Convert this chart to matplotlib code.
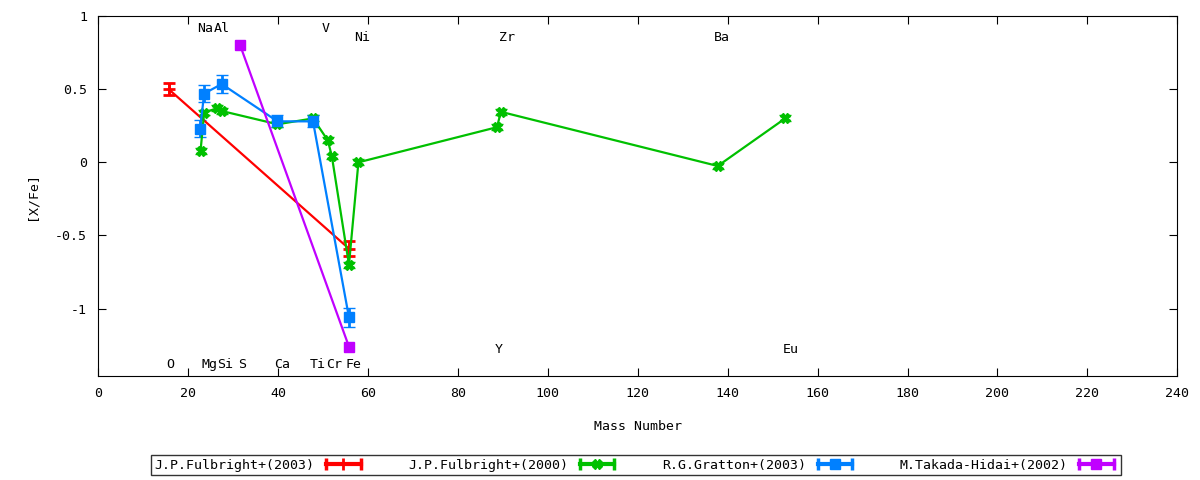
import matplotlib
matplotlib.use("Agg")
import matplotlib.pyplot as plt
from matplotlib.lines import Line2D
from matplotlib.legend_handler import HandlerLine2D, HandlerTuple

plt.rcParams['font.family'] = ['DejaVu Sans Mono']
plt.rcParams['font.size'] = 9.5
plt.rcParams['axes.unicode_minus'] = False

# J.P.Fulbright+(2003): O, Fe
ful03_x = [15.7, 55.8]
ful03_y = [0.50, -0.59]
ful03_err = [0.04, 0.05]

# J.P.Fulbright+(2000): Na Mg Al Si Ca Ti V Cr Fe Ni Y Zr Ba Eu
ful00_x = [22.8, 23.6, 26.5, 27.6, 39.9, 47.8, 51.1, 52.0, 55.8, 57.9, 88.7, 89.6, 137.8, 152.8]
ful00_y = [0.08, 0.34, 0.37, 0.35, 0.26, 0.30, 0.15, 0.04, -0.70, 0.00, 0.24, 0.345, -0.025, 0.30]
ful00_err = [0.02] * len(ful00_x)

# R.G.Gratton+(2003): Na Mg Al Ca Ti Fe
grat_x = [22.7, 23.6, 27.5, 39.9, 47.8, 55.8]
grat_y = [0.23, 0.47, 0.535, 0.28, 0.28, -1.06]
grat_err = [0.06, 0.06, 0.06, 0.04, 0.04, 0.065]

# M.Takada-Hidai+(2002): S, Fe
takada_x = [31.6, 55.8]
takada_y = [0.80, -1.26]

# element labels
top_labels = ['Na', 'Al', 'V', 'Ni', 'Zr', 'Ba']
top_x = [23.8, 27.6, 50.7, 58.7, 91.0, 138.8]
top_y = [0.915, 0.915, 0.915, 0.85, 0.85, 0.85]
bot_labels = ['O', 'Mg', 'Si', 'S', 'Ca', 'Ti', 'Cr', 'Fe', 'Y', 'Eu']
bot_x = [16.0, 24.7, 28.3, 32.0, 40.9, 48.9, 52.5, 56.9, 89.2, 154.1]
bot_y = [-1.38, -1.38, -1.38, -1.38, -1.38, -1.38, -1.38, -1.38, -1.28, -1.28]

series = [
    ('J.P.Fulbright+(2003)', ful03_x, ful03_y, ful03_err, '#ff0000', '+', 9),
    ('J.P.Fulbright+(2000)', ful00_x, ful00_y, ful00_err, '#00c000', 'X', 7),
    ('R.G.Gratton+(2003)', grat_x, grat_y, grat_err, '#0080ff', 's', 7),
    ('M.Takada-Hidai+(2002)', takada_x, takada_y, None, '#c000ff', 's', 7),
]

fig = plt.figure(figsize=(12, 4.8), dpi=100)
ax = fig.add_axes([0.0817, 0.2167, 0.8994, 0.75])

handles = []
labels = []
hmap = {tuple: HandlerTuple(ndivide=1)}
for name, xs, ys, err, col, mk, ms in series:
    ax.errorbar(xs, ys, yerr=err, color=col, lw=1.6, marker=mk, ms=ms,
                mew=2 if mk == '+' else 1, elinewidth=2, capsize=4, capthick=2)
    cap = Line2D([], [], color=col, lw=3, marker='|', ms=9, mew=2.5)
    mark = Line2D([], [], color=col, lw=0, marker=mk, ms=ms, mew=2 if mk == '+' else 1)
    hmap[cap] = HandlerLine2D(numpoints=2)
    hmap[mark] = HandlerLine2D(numpoints=1)
    handles.append((cap, mark))
    labels.append(name)

for t, x, y in zip(top_labels, top_x, top_y):
    ax.text(x, y, t, ha='center', va='center')
for t, x, y in zip(bot_labels, bot_x, bot_y):
    ax.text(x, y, t, ha='center', va='center')

ax.set_xlim(0, 240)
ax.set_ylim(-1.46, 1)
ax.set_xticks(range(0, 241, 20))
ax.set_yticks([-1, -0.5, 0, 0.5, 1])
ax.set_yticklabels(['-1', '-0.5', '0', '0.5', '1'])
ax.tick_params(direction='in', top=True, right=True, length=6, pad=8)
ax.set_xlabel('Mass Number', labelpad=14)
ax.set_ylabel('[X/Fe]', labelpad=12)

leg = fig.legend(handles, labels, handler_map=hmap, loc='center',
                 bbox_to_anchor=(0.530, 0.031), ncol=4, markerfirst=False,
                 frameon=True, fancybox=False, edgecolor='black',
                 handlelength=3.2, columnspacing=3.3, borderpad=0.25,
                 handletextpad=0.6)
leg.get_frame().set_linewidth(1.0)

fig.savefig('out.png', dpi=100)
